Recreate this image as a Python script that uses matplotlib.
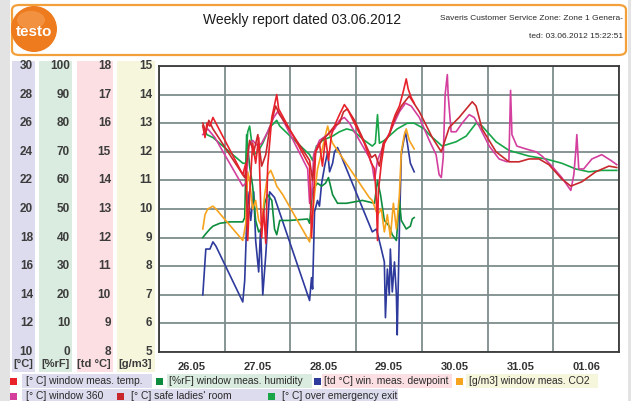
import matplotlib
matplotlib.use('Agg')
import matplotlib.pyplot as plt
from matplotlib.patches import Rectangle, FancyBboxPatch, Ellipse
from matplotlib.transforms import blended_transform_factory
import numpy as np

plt.rcParams['font.family'] = ['Liberation Sans', 'DejaVu Sans']

# ---------------- data (hours since 26.05 00:00) ----------------
day_labels = ["26.05", "27.05", "28.05", "29.05", "30.05", "31.05", "01.06"]

t_temp = [16.0, 16.8, 17.5, 18.6, 19.7, 20.8, 30.6, 31.7, 32.4, 33.1, 34.2, 35.3, 36.4, 37.5, 38.2,
          39.0, 39.7, 41.2, 43.0, 43.7, 55.0, 55.7, 56.5, 57.2, 58.6, 59.7, 60.8, 61.9, 63.0, 64.5,
          65.9, 67.7, 68.8, 75.0, 77.6, 78.7, 79.4, 79.8, 80.1, 81.2, 82.3, 84.1, 85.2, 86.3, 87.8,
          89.2, 90.3, 91.0, 92.1, 93.2]
temp_c = [25.8, 25.0, 26.0, 25.8, 26.4, 26.0, 22.4, 23.2, 17.8, 21.0, 24.6, 23.2, 25.0, 18.0, 20.0,
          17.6, 23.0, 26.4, 28.0, 27.0, 23.0, 18.0, 21.0, 24.0, 24.6, 23.0, 25.0, 23.4, 25.2, 26.0,
          26.6, 27.3, 27.0, 24.6, 23.2, 22.8, 20.6, 17.8, 21.2, 23.2, 24.6, 25.2, 26.0, 26.6, 27.2,
          28.2, 29.1, 28.4, 27.8, 27.4]

t_hum = [16.0, 16.8, 18.6, 19.7, 22.2, 25.9, 30.6, 31.3, 32.0, 33.1, 34.2, 35.3, 36.4, 37.5, 38.6,
         39.7, 41.2, 42.2, 43.0, 44.1, 47.7, 54.3, 55.0, 56.1, 57.9, 59.4, 60.8, 61.9, 63.4, 65.2,
         68.5, 74.3, 78.7, 79.8, 80.9, 82.3, 84.1, 85.2, 86.7, 87.8, 88.5, 90.3, 91.8, 92.5, 93.2]
hum_rf = [40, 41, 43, 44, 45, 45.5, 45.5, 47, 76, 65, 58, 46, 42, 43, 52,
          55, 53, 43, 41, 46, 46, 46.5, 45, 57, 59, 58, 59, 61, 55, 52,
          52, 53, 52, 60, 55, 46, 44, 41, 39, 53, 46, 43, 44, 46.5, 47]

t_dew = [16.0, 17.1, 18.6, 19.7, 20.8, 30.6, 31.3, 32.4, 33.5, 34.6, 35.3, 36.4, 37.1, 37.9, 39.0,
         40.4, 42.2, 55.0, 55.7, 56.1, 56.8, 57.9, 58.6, 59.4, 60.5, 61.6, 62.3, 63.4, 64.1, 65.2,
         65.9, 77.9, 79.4, 81.2, 82.3, 82.7, 83.4, 84.1, 84.5, 85.2, 86.0, 86.7, 87.0, 87.8, 88.5,
         89.2, 90.0, 90.7, 91.8, 93.2]
dew_td = [10.0, 11.6, 11.6, 11.85, 11.7, 9.75, 10.5, 13.6, 12.6, 13.6, 11.9, 10.8, 12.3, 10.0, 11.4,
          13.6, 13.4, 9.8, 10.6, 10.2, 12.9, 13.3, 13.1, 13.9, 14.5, 15.0, 14.3, 14.6, 15.0, 15.15,
          15.0, 12.2, 12.3, 11.6, 11.15, 9.2, 10.9, 10.0, 11.6, 10.1, 11.15, 10.0, 8.6, 12.3, 14.9,
          15.3, 15.7, 15.3, 14.6, 14.3]

t_co2 = [16.0, 16.8, 17.8, 19.7, 20.8, 30.6, 31.7, 32.4, 33.1, 34.2, 35.3, 36.4, 37.5, 38.6, 39.7,
         40.8, 41.9, 43.0, 45.2, 55.0, 55.7, 56.8, 57.9, 59.4, 60.8, 61.6, 62.6, 63.4, 76.8, 77.9,
         79.8, 81.2, 82.3, 83.4, 84.5, 85.6, 86.7, 87.8, 88.5, 89.6, 90.3, 91.4, 93.2]
co2_gm3 = [9.3, 9.8, 10.0, 10.1, 10.0, 8.9, 9.5, 11.3, 11.0, 10.0, 10.3, 9.6, 9.4, 10.5, 11.2,
           11.35, 11.1, 10.8, 10.5, 8.85, 9.4, 10.5, 11.4, 12.0, 12.6, 12.9, 12.5, 12.3, 10.4, 10.3,
           9.8, 10.0, 9.2, 9.8, 9.0, 10.2, 9.3, 10.5, 12.0, 12.6, 12.8, 12.4, 12.1]

t_w360 = [16.0, 17.8, 20.4, 30.6, 31.7, 32.8, 34.2, 36.1, 37.5, 39.7, 41.9, 43.3, 44.8, 54.3, 55.0,
          55.7, 56.5, 58.6, 61.6, 64.1, 65.9, 67.7, 69.6, 76.8, 77.9, 78.7, 79.8, 82.3, 84.9, 87.8,
          90.0, 92.1, 95.1, 98.7, 101.2, 102.3, 103.1, 103.8, 104.5, 105.3, 105.6, 106.7, 108.5, 110.7, 113.3,
          115.1, 116.9, 120.6, 124.2, 127.1, 127.8, 128.4, 128.9, 130.7, 134.0, 137.7, 139.9, 143.5, 147.1, 150.4,
          151.5, 152.2, 152.6, 153.3, 155.1, 158.1, 161.7, 165.0, 167.2]
w360_c = [25.2, 25.6, 25.0, 21.6, 21.8, 24.4, 24.8, 24.4, 24.6, 25.4, 26.4, 26.8, 26.4, 22.8, 20.4,
          20.8, 23.8, 24.8, 25.2, 25.6, 26.2, 26.4, 26.0, 23.6, 23.0, 22.0, 23.4, 24.6, 25.6, 26.8,
          27.4, 27.2, 26.4, 24.8, 23.8, 22.4, 22.2, 23.6, 28.0, 29.4, 28.0, 25.4, 25.4, 26.0, 26.6,
          26.4, 25.8, 24.4, 23.5, 23.3, 23.4, 28.3, 25.2, 24.4, 24.2, 24.0, 23.7, 23.0, 22.2, 21.3,
          22.4, 24.0, 25.2, 22.8, 22.8, 23.5, 23.8, 23.4, 23.1]

t_safe = [16.0, 17.1, 18.2, 19.7, 31.3, 32.0, 33.1, 34.6, 36.1, 37.5, 39.0, 40.4, 42.6, 44.1, 55.0,
          56.1, 57.2, 59.4, 61.6, 64.1, 65.9, 67.4, 68.8, 71.4, 77.6, 79.0, 80.5, 81.9, 84.1, 86.3,
          88.5, 91.4, 95.1, 99.8, 103.1, 106.0, 109.6, 114.4, 115.8, 118.0, 123.1, 127.8, 131.5, 135.1, 138.8,
          142.4, 147.1, 150.4, 154.4, 159.5, 164.3, 167.2]
safe_c = [26.0, 25.4, 26.2, 25.6, 22.2, 23.2, 24.8, 24.0, 25.2, 23.0, 23.8, 25.6, 27.2, 26.6, 23.4,
          22.0, 24.0, 24.8, 25.2, 25.8, 26.0, 26.8, 27.0, 26.2, 23.6, 23.8, 23.0, 24.6, 25.2, 26.4,
          27.2, 27.9, 26.8, 25.0, 24.0, 25.7, 26.4, 27.5, 27.2, 25.6, 24.0, 23.3, 23.3, 23.5, 23.5,
          23.1, 22.1, 21.6, 21.9, 22.6, 23.0, 22.9]

t_exit = [16.0, 17.5, 19.7, 30.6, 31.7, 32.4, 33.1, 33.9, 34.6, 36.1, 37.9, 40.4, 43.0, 44.1, 49.5,
          55.0, 56.1, 57.5, 59.7, 63.4, 65.9, 68.5, 70.7, 75.0, 77.9, 79.0, 79.8, 80.5, 82.3, 87.0,
          90.7, 93.2, 96.9, 98.7, 103.4, 108.5, 112.2, 115.8, 118.0, 123.1, 127.8, 135.1, 141.3, 147.1, 152.2,
          157.0, 161.7, 167.2]
exit_c = [25.8, 25.2, 25.0, 23.2, 23.2, 25.4, 25.8, 24.6, 23.8, 24.0, 24.6, 25.7, 26.2, 25.8, 24.8,
          23.8, 23.4, 24.4, 24.8, 25.1, 25.4, 25.6, 25.5, 24.8, 24.4, 24.6, 26.6, 24.6, 24.8, 25.6,
          26.0, 26.0, 25.6, 25.2, 24.4, 24.7, 25.1, 26.0, 25.8, 24.7, 24.1, 23.7, 23.5, 23.2, 22.8,
          22.6, 22.7, 22.7]

temp_ticks = [10, 12, 14, 16, 18, 20, 22, 24, 26, 28, 30]
hum_ticks = [0, 10, 20, 30, 40, 50, 60, 70, 80, 90, 100]
td_ticks = [8, 9, 10, 11, 12, 13, 14, 15, 16, 17, 18]
abs_ticks = [5, 6, 7, 8, 9, 10, 11, 12, 13, 14, 15]

legend_row1 = ["[° C] window meas. temp.", "[%rF] window meas. humidity",
               "[td °C] win. meas. dewpoint", "[g/m3] window meas. CO2"]
legend_row2 = ["[° C] window 360", "[° C] safe ladies' room", "[° C] over emergency exit"]

# conversions of each unit onto the common plotting scale (g/m3 axis 5..15)
def from_c(v): return np.asarray(v, float) / 2.0
def from_rf(v): return 5 + np.asarray(v, float) / 10.0
def from_td(v): return np.asarray(v, float) - 3.0
def from_gm3(v): return np.asarray(v, float)

C_TEMP = '#e8212b'
C_HUM = '#0e8c3e'
C_DEW = '#2e3a9c'
C_CO2 = '#f6a31e'
C_W360 = '#d43f9e'
C_SAFE = '#c8282c'
C_EXIT = '#17a548'

COL_LAV = '#dcdcee'
COL_GRN = '#d9ecdf'
COL_PNK = '#fbdfe3'
COL_YEL = '#f6f6dc'

# ---------------- figure ----------------
W, H = 631, 401
fig = plt.figure(figsize=(W / 100, H / 100), dpi=100, facecolor='#e3e3e3')

def fx(x): return x / W
def fy(y): return 1 - y / H

def rect(x0, y0, x1, y1, color, **kw):
    fig.add_artist(Rectangle((fx(x0), fy(y1)), fx(x1) - fx(x0), fy(y0) - fy(y1),
                             transform=fig.transFigure, facecolor=color, edgecolor='none', **kw))

# white page
rect(10, 0, 628, 401, 'white', zorder=0)

# header box
fig.add_artist(FancyBboxPatch((fx(12), fy(55)), fx(626) - fx(12), fy(5) - fy(55),
                              boxstyle='round,pad=0,rounding_size=0.012',
                              transform=fig.transFigure, facecolor='white',
                              edgecolor='#f4a03a', linewidth=1.6, zorder=1))
# logo
fig.add_artist(Ellipse((fx(34), fy(29)), 2 * 23 / W, 2 * 23 / H, transform=fig.transFigure,
                       facecolor='#ee7b1d', edgecolor='none', zorder=2))
fig.add_artist(Ellipse((fx(31), fy(20)), 2 * 14 / W, 2 * 9 / H, transform=fig.transFigure,
                       facecolor='#f6a35a', edgecolor='none', alpha=0.6, zorder=2))
fig.text(fx(34), fy(32), 'testo', color='white', fontsize=11, fontweight='bold',
         ha='center', va='center', zorder=3)
fig.text(fx(302), fy(20), 'Weekly report dated 03.06.2012', fontsize=10, color='#1a1a1a',
         ha='center', va='center')
fig.text(fx(623), fy(19), 'Saveris Customer Service Zone: Zone 1 Genera-', fontsize=6,
         color='#2a2a2a', ha='right', va='center')
fig.text(fx(623), fy(36), 'ted: 03.06.2012 15:22:51', fontsize=6,
         color='#2a2a2a', ha='right', va='center')

# axis colour columns
rect(12, 61, 35, 372, COL_LAV, zorder=0.5)
rect(39, 61, 72, 372, COL_GRN, zorder=0.5)
rect(77, 61, 113, 372, COL_PNK, zorder=0.5)
rect(117, 61, 155, 372, COL_YEL, zorder=0.5)

# ---------------- axes ----------------
ax = fig.add_axes([fx(159), fy(352), fx(619) - fx(159), fy(66) - fy(352)])
ax.set_facecolor('white')
ax.set_xlim(0, 168)
ax.set_ylim(5, 15)
ax.set_xticks(np.arange(0, 169, 24))
ax.set_yticks(abs_ticks)
ax.set_xticks(np.arange(12, 168, 24), minor=True)
ax.set_xticklabels([], minor=False)
ax.set_xticklabels(day_labels, minor=True)
ax.set_yticklabels([])
ax.tick_params(axis='both', which='both', length=0)
ax.tick_params(axis='x', which='minor', pad=7, labelsize=8, labelcolor='#333333')
for lab in ax.get_xticklabels(minor=True):
    lab.set_fontweight('bold')
ax.grid(True, which='major', color='#7d8c8c', linewidth=1.3)
for s in ax.spines.values():
    s.set_color('#3a3a3a')
    s.set_linewidth(1.3)

lw = 1.2
ax.plot(t_dew, from_td(dew_td), color=C_DEW, lw=lw, zorder=3)
ax.plot(t_hum, from_rf(hum_rf), color=C_HUM, lw=lw, zorder=3)
ax.plot(t_co2, from_gm3(co2_gm3), color=C_CO2, lw=lw, zorder=3)
ax.plot(t_exit, from_c(exit_c), color=C_EXIT, lw=lw, zorder=3)
ax.plot(t_w360, from_c(w360_c), color=C_W360, lw=lw, zorder=3)
ax.plot(t_safe, from_c(safe_c), color=C_SAFE, lw=lw, zorder=3)
ax.plot(t_temp, from_c(temp_c), color=C_TEMP, lw=lw, zorder=3)

# left axis labels (four unit scales)
tr = blended_transform_factory(fig.transFigure, ax.transData)
scales = [(temp_ticks, from_c, 33, '[°C]'), (hum_ticks, from_rf, 70, '[%rF]'),
          (td_ticks, from_td, 111, '[td °C]'), (abs_ticks, from_gm3, 152, '[g/m3]')]
for ticks, conv, xr, unit in scales:
    for tv, yv in zip(ticks, conv(ticks)):
        fig.text(fx(xr), yv, str(tv), transform=tr, ha='right', va='center',
                 fontsize=8.5, fontweight='bold', color='#3c3c3c')
    fig.text(fx(xr), fy(364), unit, ha='right', va='center', fontsize=8,
             fontweight='bold', color='#3c3c3c')

# ---------------- legend ----------------
def legend_item(xsq, ytxt, color, text, xtxt, fontsize=7.4):
    rect(xsq, ytxt - 3.5, xsq + 7, ytxt + 3.5, color, zorder=2)
    fig.text(fx(xtxt), fy(ytxt), text, ha='left', va='center',
             fontsize=fontsize, color='#2a2a2a', zorder=3)

rect(22, 374, 152, 388, COL_LAV, zorder=1)
rect(167, 374, 312, 388, COL_GRN, zorder=1)
rect(322, 374, 452, 388, COL_PNK, zorder=1)
rect(466, 374, 598, 388, COL_YEL, zorder=1)
rect(22, 389, 398, 401, COL_LAV, zorder=1)

legend_item(10, 381, C_TEMP, legend_row1[0], 26)
legend_item(156, 381, C_HUM, legend_row1[1], 169)
legend_item(314, 381, C_DEW, legend_row1[2], 324)
legend_item(456, 381, C_CO2, legend_row1[3], 469)
legend_item(10, 396, C_W360, legend_row2[0], 26)
legend_item(117, 396, C_SAFE, legend_row2[1], 131)
legend_item(268, 396, C_EXIT, legend_row2[2], 282)

fig.savefig('out.png', dpi=100, facecolor=fig.get_facecolor())
